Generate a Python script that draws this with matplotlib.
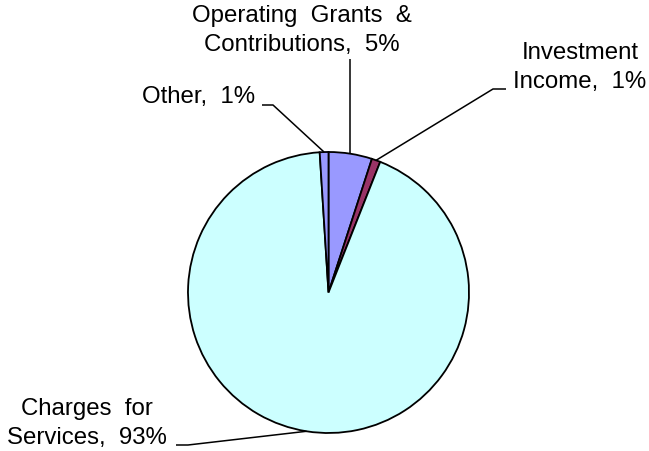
import numpy as np
import matplotlib
matplotlib.use("Agg")
import matplotlib.pyplot as plt

# Revenue sources, percent of total
categories = ["Operating  Grants  &\nContributions", "Investment\nIncome",
              "Charges  for\nServices", "Other"]
shares = [5, 1, 93, 1]
colors = ["#9999FF", "#993366", "#CCFFFF", "#9999FF"]

W, H = 649, 451
fig = plt.figure(figsize=(W / 100, H / 100), dpi=100)
ax = fig.add_axes([0, 0, 1, 1])

cx, cy, r = 328.5, H - 292.5, 140.5
wedges, _ = ax.pie(shares, colors=colors, startangle=90, counterclock=False,
                   center=(cx, cy), radius=r,
                   wedgeprops=dict(edgecolor="black", linewidth=1.3))
ax.set_xlim(0, W)
ax.set_ylim(0, H)
ax.set_aspect("equal")
ax.axis("off")

font = dict(family=["Liberation Sans", "DejaVu Sans"], fontsize=17.3, color="black")

# text anchor (centre x, last baseline y) and leader elbow points, in px from top-left
label_layout = [
    dict(xy=(301.7, 51.5), path=None, top=59),
    dict(xy=(580, 88.3), path=[(493, 89), (506, 89)]),
    dict(xy=(86.5, 444.3), path=[(188, 445), (176, 445)]),
    dict(xy=(198.3, 103.3), path=[(273, 105), (262, 105)]),
]

for w, cat, val, lay in zip(wedges, categories, shares, label_layout):
    mid = np.deg2rad((w.theta1 + w.theta2) / 2)
    ex, ey = cx + r * np.cos(mid), cy + r * np.sin(mid)
    if lay["path"] is None:
        pts = [(ex, H - lay["top"])]
    else:
        pts = [(x, H - y) for x, y in lay["path"]]
    xs = [ex] + [p[0] for p in pts]
    ys = [ey] + [p[1] for p in pts]
    ax.plot(xs, ys, color="black", linewidth=1.1, solid_capstyle="butt")
    tx, ty = lay["xy"]
    ax.text(tx, H - ty, f"{cat},  {val}%", ha="center", va="baseline",
            multialignment="center", linespacing=1.43, **font)

fig.savefig("out.png", dpi=100)
